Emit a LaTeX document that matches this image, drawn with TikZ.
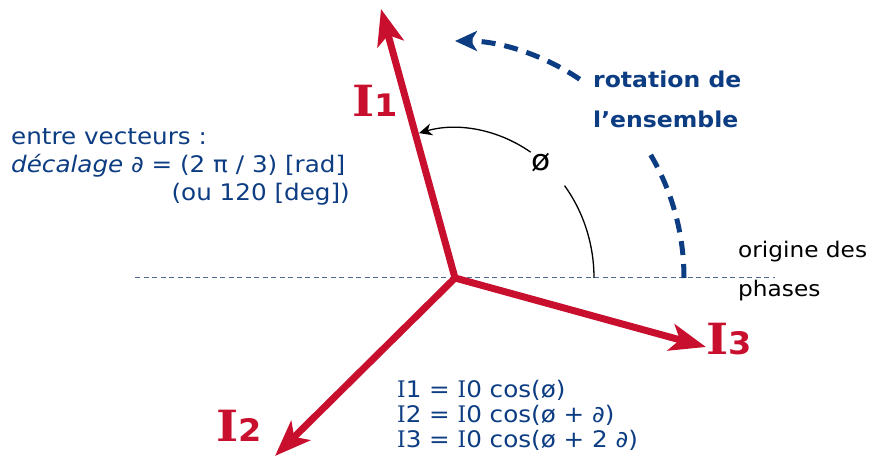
\documentclass[tikz,border=0pt]{standalone}
\usepackage{fontspec}
\setmainfont{DejaVu Sans}[FakeStretch=1.08]
\newfontfamily\labserif{DejaVu Serif}[FakeStretch=1.1]
\newfontfamily\sIfont{DejaVu Serif}[FakeStretch=0.95]
\usetikzlibrary{arrows.meta}
\definecolor{vred}{RGB}{200,16,46}
\definecolor{vblue}{RGB}{12,60,130}
\definecolor{lblue}{RGB}{80,105,150}
\newcommand\Ilabel[1]{{\labserif\bfseries\fontsize{43}{43}\selectfont I}{\bfseries\fontsize{31}{31}\selectfont #1}}
\newcommand\sI{{\sIfont I}}
\tikzset{
  vec/.style={vred, line width=7pt, -{Stealth[length=36pt,width=27pt,inset=9pt]}},
  origin/.style={lblue, line width=1pt, dash pattern=on 5pt off 3.5pt},
  rotarc/.style={vblue, line width=5pt, dash pattern=on 14pt off 9pt},
  angarc/.style={black, line width=1.3pt},
  bluetxt/.style={vblue, inner sep=0pt, font=\fontsize{22.8}{24}\selectfont},
  rottxt/.style={vblue, inner sep=0pt, font=\bfseries\fontsize{21.8}{24}\selectfont},
  blacktxt/.style={black, inner sep=0pt, font=\fontsize{21.5}{24}\selectfont},
  redlab/.style={vred, inner sep=0pt},
}
\begin{document}
\begin{tikzpicture}[x=1pt,y=-1pt]
\useasboundingbox (0,0) rectangle (871,462);
\coordinate (O) at (455,278);
\coordinate (hL) at (135,278);
\coordinate (hR) at (775,278);
\coordinate (t1) at (381,9);
\coordinate (t2) at (275,456);
\coordinate (t3) at (706,347);
% origin line
\draw[origin] (hL) -- (hR);
% rotation arc
\draw[rotarc] ([shift={(0:229 and 237)}]O) arc[start angle=0,end angle=-32,x radius=229,y radius=237];
\draw[rotarc, -{Stealth[length=22pt,width=20pt,inset=6pt]}] ([shift={(-57:229 and 237)}]O) arc[start angle=-57,end angle=-90,x radius=229,y radius=237];
% angle arc
\draw[angarc] ([shift={(0:139 and 150)}]O) arc[start angle=0,end angle=-38,x radius=139,y radius=150];
\draw[angarc, -{Stealth[length=13pt,width=12pt,inset=4pt]}] ([shift={(-57:139 and 150)}]O) arc[start angle=-57,end angle=-105,x radius=139,y radius=150];
% vectors
\draw[vec] (O) -- (t1);
\draw[vec] (O) -- (t2);
\draw[vec] (O) -- (t3);
% labels
\node[redlab, anchor=base west] (l1) at (352,117) {\Ilabel{1}};
\node[redlab, anchor=base west] (l2) at (216,442) {\Ilabel{2}};
\node[redlab, anchor=base west] (l3) at (706,355) {\Ilabel{3}};
\node[black, inner sep=0pt, font=\fontsize{29}{29}\selectfont] (phi) at (541,163) {ø};
% texts
\node[bluetxt, anchor=base west] (e1) at (11,145) {entre vecteurs :};
\node[bluetxt, anchor=base west] (e2) at (11,173) {\textit{décalage} ∂ = (2 π / 3) [rad]};
\node[bluetxt, anchor=base east] (e3) at (350,201) {(ou 120 [deg])};
\node[rottxt, anchor=base west] (r1) at (593,88) {rotation de};
\node[rottxt, anchor=base west] (r2) at (593,128) {l’ensemble};
\node[blacktxt, anchor=base west] (o1) at (738,258) {origine des};
\node[blacktxt, anchor=base west] (o2) at (738,297) {phases};
\node[bluetxt, anchor=base west] (f1) at (397,398) {\sI1 = \sI0 cos(ø)};
\node[bluetxt, anchor=base west] (f2) at (397,423) {\sI2 = \sI0 cos(ø + ∂)};
\node[bluetxt, anchor=base west] (f3) at (397,448) {\sI3 = \sI0 cos(ø + 2 ∂)};
\end{tikzpicture}
\end{document}
